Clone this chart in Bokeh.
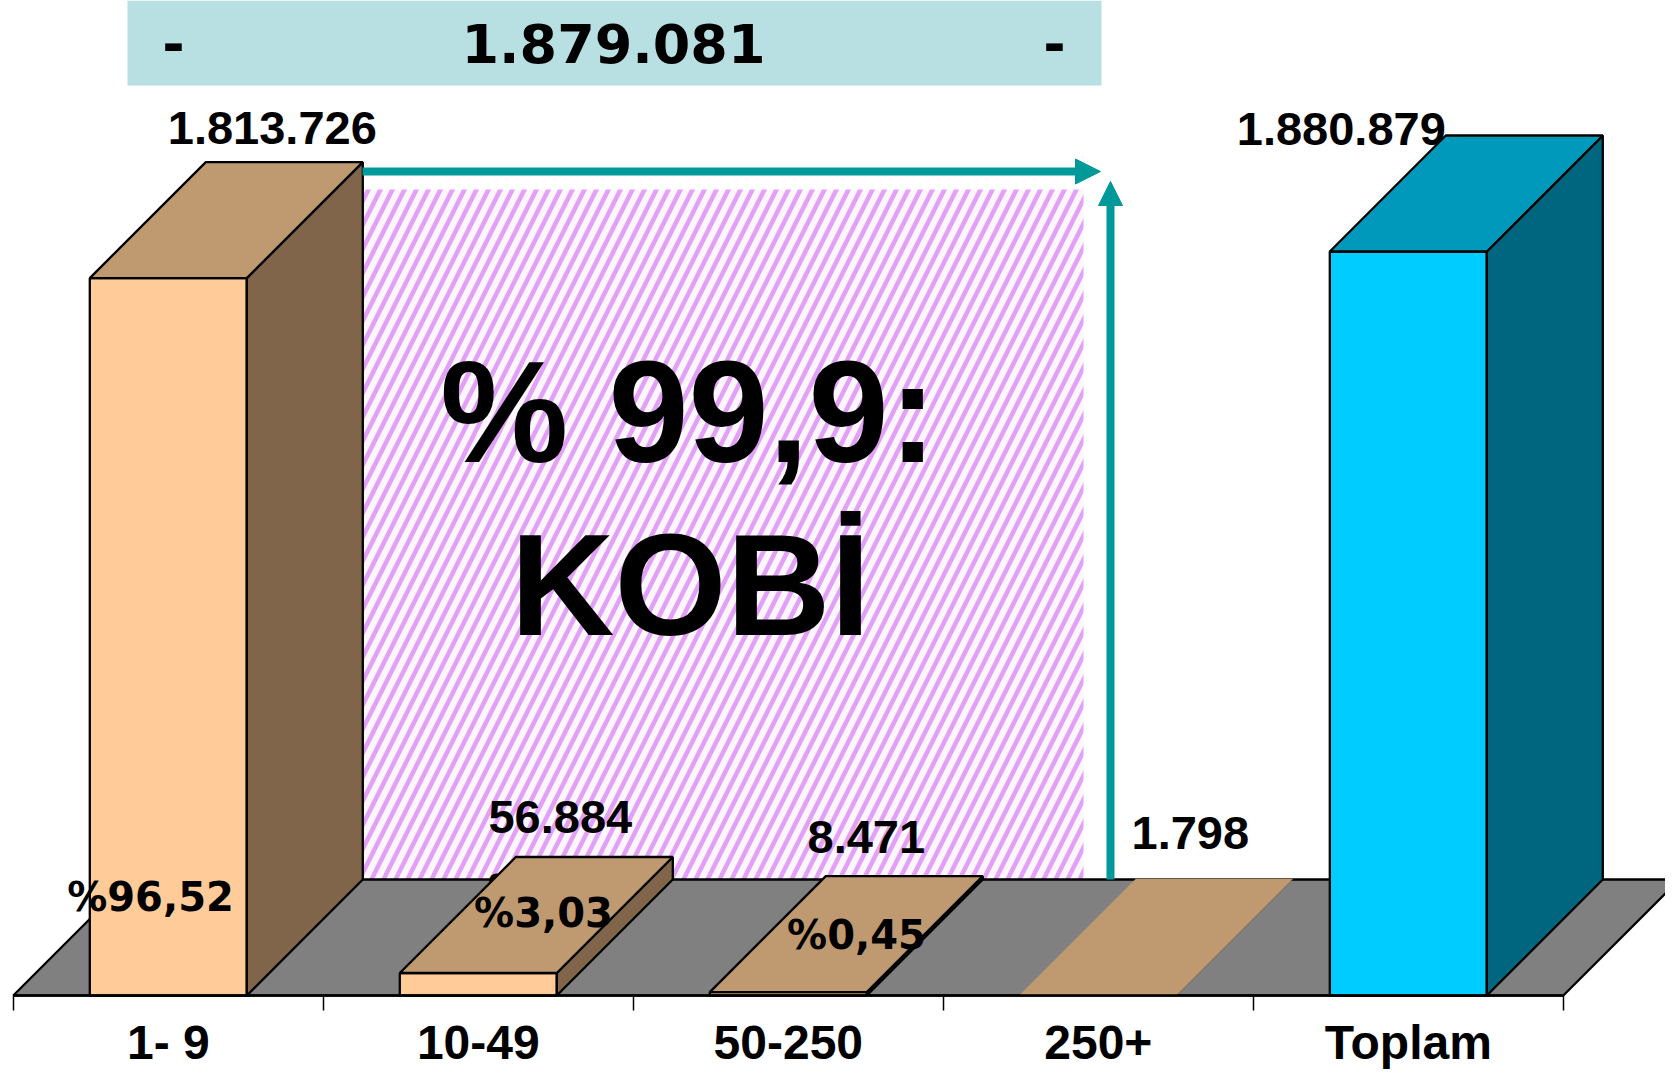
from bokeh.plotting import figure
from bokeh.models import Arrow, NormalHead, FixedTicker
from bokeh.core.properties import value
from bokeh.embed import file_html
from bokeh.resources import INLINE

categories = ["1- 9", "10-49", "50-250", "250+", "Toplam"]
counts = [1813726, 56884, 8471, 1798, 1880879]
count_labels = ["1.813.726", "56.884", "8.471", "1.798", "1.880.879"]
share_labels = ["%96,52", "%3,03", "%0,45"]
banner_text = "1.879.081"
headline = ["% 99,9:", "KOBİ"]

front_colors = ["#FFCC99", "#FFCC99", "#FFCC99", "#FFCC99", "#00CCFF"]
top_colors = ["#BF9970", "#BF9970", "#BF9970", "#BF9970", "#0099BB"]
side_colors = ["#80654A", "#80654A", "#80654A", "#80654A", "#006680"]
line_colors = ["black", "black", "black", None, "black"]

# scale: page pixels <-> data
X0, XU = 12.8, 310.0
Y0, YU = 995.0, 1880879 / 744.0
def dx(px): return (px - X0) / XU
def dy(py): return (Y0 - py) * YU

BAR_W = 157 / XU
DEPTH_X = 116 / XU
DEPTH_Y = 116 * YU

W, H = 1665, 1072

p = figure(width=W, height=H, output_backend="svg", toolbar_location=None,
           x_range=(dx(0), dx(W)), y_range=(dy(H), dy(0)),
           min_border_left=0, min_border_right=0, min_border_top=0, min_border_bottom=0,
           outline_line_color=None, background_fill_color="white", border_fill_color="white")
p.grid.visible = False
p.yaxis.visible = False

ax = p.xaxis[0]
ax.fixed_location = 0
ax.ticker = FixedTicker(ticks=[i + 0.5 for i in range(5)], minor_ticks=list(range(6)))
ax.major_label_overrides = {i + 0.5: c for i, c in enumerate(categories)}
ax.bounds = (0, 5)
ax.axis_line_color = "black"
ax.axis_line_width = 2.3
ax.major_tick_line_color = None
ax.major_tick_out = 0
ax.major_tick_in = 0
ax.minor_tick_line_color = "black"
ax.minor_tick_line_width = 1.5
ax.minor_tick_out = 15
ax.minor_tick_in = 0
ax.major_label_standoff = 5
ax.major_label_text_font = "Liberation Sans"
ax.major_label_text_font_style = "bold"
ax.major_label_text_font_size = "48px"
ax.major_label_text_color = "black"

# banner
p.quad(left=[dx(127)], right=[dx(1101)], top=[dy(0)], bottom=[dy(85)],
       fill_color="#B8E0E3", line_color=None)
p.text(x=[dx(173), dx(613), dx(1054)], y=[dy(43)] * 3, text=["-", banner_text, "-"],
       text_font=value("DejaVu Sans"), text_font_style="bold", text_font_size="54px",
       text_align="center", text_baseline="middle", text_color="black")

# hatched panel
p.quad(left=[dx(362)], right=[dx(1083)], top=[dy(189)], bottom=[DEPTH_Y],
       fill_color="#FDF6FE", line_color=None,
       hatch_pattern="right_diagonal_line", hatch_color="#E3A0F8", hatch_weight=4.5, hatch_scale=24)

# floor
p.patch(x=[0, 5, 5 + DEPTH_X, DEPTH_X], y=[0, 0, DEPTH_Y, DEPTH_Y],
        fill_color="#808080", line_color="black", line_width=2.3)

# hidden share label peeking from behind the 10-49 bar
p.text(x=[dx(507)], y=[dy(889)], text=["%"], text_font=value("DejaVu Sans"), text_font_style="bold",
       text_font_size="39px", text_align="center", text_baseline="middle", text_color="black")

# 3-D bars
fx, fy, tx, ty, sx, sy = [], [], [], [], [], []
for i, v in enumerate(counts):
    l, r = i + 0.5 - BAR_W / 2, i + 0.5 + BAR_W / 2
    fx.append([l, r, r, l]); fy.append([0, 0, v, v])
    tx.append([l, r, r + DEPTH_X, l + DEPTH_X]); ty.append([v, v, v + DEPTH_Y, v + DEPTH_Y])
    sx.append([r, r + DEPTH_X, r + DEPTH_X, r]); sy.append([0, DEPTH_Y, v + DEPTH_Y, v])
for xs, ys, cols in ((fx, fy, front_colors), (sx, sy, side_colors), (tx, ty, top_colors)):
    p.patches(xs=xs, ys=ys, fill_color=cols, line_color=line_colors, line_width=2.3)

# value labels
p.text(x=[i + 0.5 for i in range(5)], y=[v + DEPTH_Y for v in counts], text=count_labels,
       x_offset=[104, 82, 78, 92, -67], y_offset=[-34, -40, -39, -46, -7],
       text_font=value("Liberation Sans"), text_font_style="bold", text_font_size="47px",
       text_align="center", text_baseline="middle", text_color="black")

# share labels
p.text(x=[dx(150), dx(543), dx(856)], y=[dy(896), dy(912), dy(934)], text=share_labels,
       text_font=value("DejaVu Sans"), text_font_style="bold", text_font_size="40px",
       text_align="center", text_baseline="middle", text_color="black")

# headline
p.text(x=[dx(688), dx(690)], y=[dy(412), dy(585)], text=headline,
       text_font=value("Liberation Sans"), text_font_style="bold", text_font_size="144px",
       text_align="center", text_baseline="middle", text_color="black")

# arrows
teal = "#009999"
p.add_layout(Arrow(end=NormalHead(size=25, fill_color=teal, line_color=teal, line_width=1),
                   x_start=dx(362), y_start=dy(171), x_end=dx(1100), y_end=dy(171),
                   line_color=teal, line_width=8))
p.add_layout(Arrow(end=NormalHead(size=24, fill_color=teal, line_color=teal, line_width=1),
                   x_start=dx(1110), y_start=DEPTH_Y, x_end=dx(1110), y_end=dy(181),
                   line_color=teal, line_width=8))

open("out.html", "w").write(file_html(p, INLINE))
